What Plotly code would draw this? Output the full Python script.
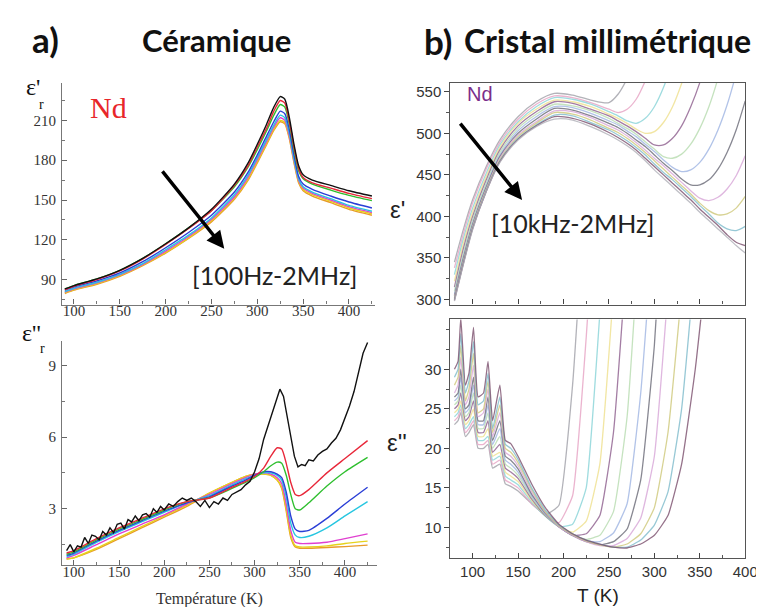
import plotly.graph_objects as go

W, H = 764, 607

def px(x):
    return x / W

def py(y):
    return 1 - y / H

# ---------------- Panel a : Ceramic ----------------
T_A = [90, 100, 125, 150, 175, 200, 225, 250, 275, 290, 300, 310, 318, 325, 330, 335, 340, 345, 350, 360, 380, 400, 425]
A_COLORS = ["#111111", "#e8283a", "#2fbf2f", "#2b3fd6", "#27c6e0", "#e040d0", "#e6d21e", "#e89a2a"]

EPS1_BLACK = [83, 85.5, 90.5, 97, 106, 117, 129, 143, 162, 178, 192, 207, 220, 228, 226, 212, 192, 176, 169, 165, 161, 157, 153]
EPS1_RED = [82.5, 85, 90, 96.5, 105.5, 116.5, 128.5, 142, 161, 176, 190, 204, 217, 225, 223, 209, 190, 174, 167, 163, 159, 155, 151]
EPS1_GREEN = [83, 85.5, 90.5, 97, 106, 117, 129, 142, 160, 175, 188, 202, 214, 222, 220, 207, 188, 172, 166, 162, 157.5, 153.5, 149.5]
EPS1_BLUE = [82, 84.5, 89, 95, 103.5, 114, 125.5, 138.5, 156, 171, 184, 198, 209, 217, 215, 203, 184, 168, 162, 158, 153, 148.5, 144]
EPS1_CYAN = [81, 83.5, 88, 94, 102, 112.5, 123.5, 136.5, 154, 169, 182, 195.5, 206.5, 214, 212, 200, 181, 166, 160, 156, 151, 146, 141.5]
EPS1_MAGENTA = [80.5, 83, 87.5, 93.5, 101.5, 111.5, 122.5, 135.5, 152.5, 167.5, 180.5, 194, 205, 212, 210, 198, 180, 165, 159, 155, 150, 145, 140.5]
EPS1_YELLOW = [80, 82.5, 87, 93, 101, 110.5, 121.5, 134.5, 151.5, 166, 179, 192.5, 203.5, 210, 208.5, 197, 179, 164, 158, 154, 149, 144, 139.5]
EPS1_ORANGE = [79.5, 82, 86.5, 92.5, 100.5, 110, 121, 133.5, 150.5, 165, 178, 191.5, 202.5, 209, 207.5, 196, 178, 163, 157, 153, 148, 143, 138.5]

T_A2 = [92, 100, 125, 150, 175, 200, 225, 250, 275, 290, 300, 310, 318, 325, 330, 335, 340, 345, 350, 360, 380, 400, 425]
EPS2_RED = [1.15, 1.25, 1.75, 2.2, 2.6, 3.0, 3.3, 3.45, 3.9, 4.15, 4.35, 4.7, 5.2, 5.55, 5.5, 4.9, 4.1, 3.6, 3.55, 3.8, 4.5, 5.1, 5.85]
EPS2_GREEN = [1.1, 1.2, 1.7, 2.15, 2.55, 2.95, 3.3, 3.45, 3.85, 4.1, 4.3, 4.55, 4.8, 4.95, 4.9, 4.4, 3.6, 3.0, 2.95, 3.25, 3.95, 4.55, 5.15]
EPS2_BLUE = [1.05, 1.15, 1.65, 2.1, 2.5, 2.9, 3.25, 3.5, 3.95, 4.2, 4.4, 4.55, 4.55, 4.45, 4.3, 3.7, 2.7, 2.15, 2.05, 2.1, 2.6, 3.2, 3.9]
EPS2_CYAN = [1.0, 1.1, 1.6, 2.05, 2.45, 2.85, 3.25, 3.55, 4.0, 4.25, 4.4, 4.5, 4.5, 4.4, 4.2, 3.5, 2.4, 1.9, 1.8, 1.85, 2.2, 2.7, 3.3]
EPS2_MAGENTA = [0.95, 1.05, 1.5, 1.95, 2.35, 2.75, 3.2, 3.6, 4.05, 4.3, 4.45, 4.5, 4.45, 4.3, 4.05, 3.2, 2.1, 1.6, 1.55, 1.55, 1.6, 1.75, 1.95]
EPS2_YELLOW = [0.9, 0.95, 1.35, 1.8, 2.25, 2.7, 3.15, 3.65, 4.1, 4.35, 4.45, 4.45, 4.4, 4.2, 3.9, 3.0, 1.9, 1.45, 1.4, 1.4, 1.45, 1.55, 1.65]
EPS2_ORANGE = [0.9, 0.95, 1.3, 1.75, 2.2, 2.65, 3.1, 3.65, 4.1, 4.35, 4.45, 4.45, 4.4, 4.2, 3.85, 2.9, 1.8, 1.4, 1.35, 1.35, 1.38, 1.42, 1.48]

T_BLACK = [92, 96, 100, 104, 108, 112, 116, 120, 124, 128, 132, 136, 140, 144, 148, 152, 156, 160, 164, 168,
           172, 176, 180, 184, 188, 192, 196, 200, 205, 210, 215, 220, 225, 230, 235, 240, 245, 250, 255, 260,
           265, 270, 275, 280, 285, 290, 295, 300, 305, 310, 315, 320, 325, 328, 332, 336, 340, 344, 348, 352,
           356, 360, 365, 370, 375, 380, 385, 390, 395, 400, 405, 410, 415, 420, 425]
EPS2_BLACK = [1.25, 1.5, 1.2, 1.45, 1.4, 1.8, 1.55, 1.9, 1.85, 1.7, 2.05, 1.9, 2.2, 2.0, 2.35, 2.4, 2.15, 2.55, 2.45, 2.7,
              2.5, 2.75, 2.8, 2.65, 3.0, 2.85, 3.1, 2.95, 3.2, 3.1, 3.3, 3.45, 3.35, 3.45, 3.3, 3.1, 3.35, 3.05, 3.3, 3.2,
              3.45, 3.35, 3.6, 3.7, 3.8, 4.0, 4.15, 4.55, 5.1, 5.9, 6.5, 7.0, 7.6, 8.0, 7.7, 6.9, 6.0, 5.2, 4.75, 4.85,
              4.8, 5.05, 5.0, 5.25, 5.4, 5.5, 5.75, 5.95, 6.3, 6.8, 7.3, 7.9, 8.7, 9.5, 9.95]

TICKS_A = [100, 150, 200, 250, 300, 350, 400]
TICKS_A1_Y = [90, 120, 150, 180, 210]
TICKS_A2_Y = [3, 6, 9]

# ---------------- Panel b : millimetric crystal ----------------
B_COLORS = ["#a0a0a8", "#e7a3c4", "#88d4d8", "#efe08c", "#8e5f8e", "#b7dcb0", "#9fb5e3",
            "#6b6b78", "#d8a6d8", "#cfc97a", "#7fbccc", "#7b4f6d", "#b0b0b8"]
N = None
T_B1 = [80, 90, 100, 115, 130, 150, 170, 190, 210, 230, 250, 260, 270, 280, 290, 300, 310, 320, 330, 340, 350, 360, 370, 380, 390, 400]
EPSB1_0 = [345, 385, 420, 460, 492, 520, 538, 548, 546, 540, 537, 547, 566, 594, 632, 680, N, N, N, N, N, N, N, N, N, N]
EPSB1_1 = [338, 380, 416, 457, 489, 517, 535, 545, 543, 537, 529, 525, 529, 541, 563, 592, 631, 700, N, N, N, N, N, N, N, N]
EPSB1_2 = [330, 374, 410, 452, 486, 514, 532, 543, 541, 535, 526, 521, 515, 512, 518, 532, 555, 587, 626, 700, N, N, N, N, N, N]
EPSB1_3 = [322, 368, 405, 448, 483, 512, 529, 540, 538, 532, 523, 518, 512, 505, 500, 502, 513, 532, 560, 595, 638, 700, N, N, N, N]
EPSB1_4 = [315, 362, 400, 444, 480, 509, 526, 538, 536, 529, 521, 515, 509, 502, 494, 486, 486, 494, 509, 532, 561, 599, 645, 700, N, N]
EPSB1_5 = [310, 356, 396, 440, 477, 506, 523, 535, 533, 527, 518, 512, 506, 499, 490, 481, 472, 470, 475, 487, 506, 532, 566, 607, 656, 700]
EPSB1_6 = [306, 352, 392, 437, 474, 503, 520, 532, 531, 524, 515, 510, 503, 496, 487, 478, 468, 459, 454, 456, 465, 481, 504, 534, 572, 617]
EPSB1_7 = [304, 350, 390, 435, 472, 500, 517, 530, 528, 521, 512, 507, 500, 492, 484, 474, 464, 455, 445, 438, 438, 444, 457, 477, 504, 539]
EPSB1_8 = [302, 347, 388, 433, 470, 498, 514, 527, 526, 519, 509, 504, 497, 489, 480, 470, 461, 451, 441, 431, 422, 419, 423, 433, 449, 473]
EPSB1_9 = [301, 346, 387, 432, 468, 496, 512, 525, 523, 516, 506, 501, 494, 486, 477, 467, 457, 447, 437, 427, 416, 407, 402, 403, 410, 424]
EPSB1_10 = [300, 345, 386, 431, 467, 494, 510, 522, 521, 513, 504, 498, 491, 483, 474, 463, 453, 444, 434, 424, 413, 403, 392, 385, 383, 388]
EPSB1_11 = [299, 344, 385, 430, 466, 493, 509, 520, 518, 511, 501, 495, 488, 480, 470, 460, 450, 440, 430, 420, 409, 399, 389, 378, 369, 365]
EPSB1_12 = [298, 343, 384, 430, 465, 492, 508, 517, 516, 508, 498, 492, 485, 477, 467, 456, 446, 436, 426, 416, 405, 395, 385, 375, 365, 356]
EPSB1 = [EPSB1_0, EPSB1_1, EPSB1_2, EPSB1_3, EPSB1_4, EPSB1_5, EPSB1_6, EPSB1_7, EPSB1_8, EPSB1_9,
         EPSB1_10, EPSB1_11, EPSB1_12]

T_B2 = [80, 84, 87, 92, 96, 101, 106, 112, 117, 122, 130, 136, 142, 150, 165, 180, 195, 210, 225, 240,
        255, 270, 285, 300, 315, 330, 345, 360]
EPSB2_0 = [23, 23.5, 24.5, 21.5, 22, 23, 20, 20, 20.5, 17.5, 18, 15.5, 15.2, 14.6, 13, 11.6, 12.8, 28, 55, N, N, N, N, N, N, N, N, N]
EPSB2_1 = [23.5, 24, 25, 22, 22.5, 23.5, 20.5, 20.5, 21, 18, 18.5, 16, 15.6, 15, 13, 11.5, 10.6, 14, 34, 60, N, N, N, N, N, N, N, N]
EPSB2_2 = [24, 24.5, 25.5, 22.5, 23, 24, 21, 21, 21.5, 18.5, 19, 16.5, 16, 15.4, 13.2, 11.4, 10.1, 10.4, 15, 37, 60, N, N, N, N, N, N, N]
EPSB2_3 = [24.5, 25, 26, 23, 23.5, 25, 21.5, 21.5, 22.5, 19, 19.5, 17, 16.5, 15.8, 13.4, 11.5, 10.1, 9.4, 10.8, 18, 40, N, N, N, N, N, N, N]
EPSB2_4 = [25, 25.5, 27, 23.5, 24, 26, 22, 22, 23.5, 19.5, 20.5, 17.5, 17, 16.2, 13.6, 11.5, 10.1, 9.0, 9.2, 11.5, 22, 45, N, N, N, N, N, N]
EPSB2_5 = [25.5, 26, 28, 24, 24.5, 27, 22.5, 22.5, 24.5, 20, 21.5, 18, 17.5, 16.6, 13.8, 11.6, 10.1, 9.0, 8.5, 9.0, 12, 24, 50, N, N, N, N, N]
EPSB2_6 = [26, 26.5, 29, 24.5, 25, 28, 23, 23, 25.5, 20.5, 22.5, 18.5, 18, 17, 14, 11.7, 10.1, 9.0, 8.3, 8.2, 9.3, 13, 27, 50, N, N, N, N]
EPSB2_7 = [26.5, 27, 30, 25, 25.5, 29, 23.5, 23.5, 26.5, 21, 23.5, 19, 18.5, 17.4, 14.2, 11.8, 10.1, 9.0, 8.2, 7.8, 8.2, 9.8, 16, 33, 60, N, N, N]
EPSB2_8 = [27, 28, 31.5, 25.5, 26.5, 30.5, 24, 24.5, 27.5, 21.5, 24.5, 19.5, 19, 17.8, 14.5, 11.9, 10.1, 9.0, 8.2, 7.7, 7.7, 8.6, 11.2, 19, 40, 65, N, N]
EPSB2_9 = [28, 29, 33, 26, 27.5, 32, 24.5, 25, 28.5, 22, 25.5, 20, 19.5, 18.2, 14.8, 12, 10.2, 9.1, 8.3, 7.8, 7.5, 7.9, 9.2, 12.5, 22, 40, 65, N]
EPSB2_10 = [29, 30, 34.5, 27, 28.5, 33.5, 25.5, 26, 29.5, 22.5, 26.5, 20.5, 20, 18.6, 15, 12.2, 10.3, 9.2, 8.4, 7.9, 7.5, 7.5, 8.4, 10.3, 14.5, 25, 44, 70]
EPSB2_11 = [30, 31, 36.5, 28, 29.5, 35.3, 26.5, 27, 31, 23.5, 28, 21, 20.6, 19, 15.5, 12.5, 10.4, 9.2, 8.4, 7.9, 7.5, 7.4, 7.9, 9.0, 11.5, 18, 30, 46]
EPSB2 = [EPSB2_0, EPSB2_1, EPSB2_2, EPSB2_3, EPSB2_4, EPSB2_5, EPSB2_6, EPSB2_7, EPSB2_8, EPSB2_9, EPSB2_10, EPSB2_11]

TICKS_B = [100, 150, 200, 250, 300, 350, 400]
TICKS_B1_Y = [300, 350, 400, 450, 500, 550]
TICKS_B2_Y = [10, 15, 20, 25, 30]

# ---------------- Figure ----------------
fig = go.Figure()

A1 = [EPS1_BLACK, EPS1_RED, EPS1_GREEN, EPS1_BLUE, EPS1_CYAN, EPS1_MAGENTA, EPS1_YELLOW, EPS1_ORANGE]
for ys, c in zip(A1[::-1], A_COLORS[::-1]):
    fig.add_trace(go.Scatter(x=T_A, y=ys, mode="lines", line=dict(color=c, width=1.4, shape="spline", smoothing=0.6),
                             xaxis="x", yaxis="y", showlegend=False, hoverinfo="skip"))

A2 = [EPS2_RED, EPS2_GREEN, EPS2_BLUE, EPS2_CYAN, EPS2_MAGENTA, EPS2_YELLOW, EPS2_ORANGE]
for ys, c in zip(A2[::-1], A_COLORS[1:][::-1]):
    fig.add_trace(go.Scatter(x=T_A2, y=ys, mode="lines", line=dict(color=c, width=1.4, shape="spline", smoothing=0.6),
                             xaxis="x2", yaxis="y2", showlegend=False, hoverinfo="skip"))
fig.add_trace(go.Scatter(x=T_BLACK, y=EPS2_BLACK, mode="lines", line=dict(color="#111111", width=1.4),
                         xaxis="x2", yaxis="y2", showlegend=False, hoverinfo="skip"))

for ys, c in zip(EPSB1, B_COLORS):
    fig.add_trace(go.Scatter(x=T_B1, y=ys, mode="lines", opacity=0.8,
                             line=dict(color=c, width=1.3, shape="spline", smoothing=0.8),
                             xaxis="x3", yaxis="y3", showlegend=False, hoverinfo="skip"))
for ys, c in zip(EPSB2, B_COLORS):
    fig.add_trace(go.Scatter(x=T_B2, y=ys, mode="lines", opacity=0.8,
                             line=dict(color=c, width=1.3, shape="spline", smoothing=0.4),
                             xaxis="x4", yaxis="y4", showlegend=False, hoverinfo="skip"))

serif_tick = dict(family="Liberation Serif", size=15, color="#333333")
sans_tick = dict(family="Liberation Sans", size=15, color="#333333")

def ax_a(domain, rng, ticks, anchor, minor_dt, standoff=0):
    return dict(domain=domain, range=rng, anchor=anchor, tickvals=ticks, ticks="inside", ticklen=5,
                tickcolor="#666666", showline=True, linecolor="#777777", linewidth=1.2,
                showgrid=False, zeroline=False, tickfont=serif_tick, ticklabelstandoff=standoff,
                minor=dict(ticks="inside", ticklen=3, dtick=minor_dt, tickcolor="#777777", showgrid=False))

def ax_b(domain, rng, ticks, anchor, minor_dt, tickdir, labels=True):
    return dict(domain=domain, range=rng, anchor=anchor, tickvals=ticks, ticks=tickdir, ticklen=5,
                tickcolor="#444444", showline=True, linecolor="#555555", linewidth=1.2, mirror=True,
                showgrid=False, zeroline=False, tickfont=sans_tick, showticklabels=labels,
                minor=dict(ticks=tickdir, ticklen=3, dtick=minor_dt, tickcolor="#555555", showgrid=False))

fig.update_layout(
    width=W, height=H, margin=dict(l=0, r=0, t=0, b=0),
    paper_bgcolor="white", plot_bgcolor="white", showlegend=False,
    xaxis=ax_a([px(55), px(373)], [87, 428], TICKS_A, "y", 25, standoff=-8),
    yaxis=ax_a([py(298), py(75)], [71.2, 238.5], TICKS_A1_Y, "x", 15, standoff=2),
    xaxis2=ax_a([px(55), px(375)], [87, 435], TICKS_A, "y2", 25, standoff=-7),
    yaxis2=ax_a([py(560), py(335)], [0.64, 10.0], TICKS_A2_Y, "x2", 1.5, standoff=2),
    xaxis3=ax_b([px(450), px(750)], [75.5, 400], TICKS_B, "y3", 25, "inside", labels=False),
    yaxis3=ax_b([py(298), py(75)], [294, 561], TICKS_B1_Y, "x3", 25, "outside"),
    xaxis4=ax_b([px(450), px(750)], [75.5, 400], TICKS_B, "y4", 25, "inside"),
    yaxis4=ax_b([py(553), py(313)], [6.1, 36.3], TICKS_B2_Y, "x4", 2.5, "outside"),
)

def txt(x, y, s, size, family, color="#111111", bold=False, xanchor="center"):
    if bold:
        s = "<b>" + s + "</b>"
    fig.add_annotation(x=px(x), y=py(y), xref="paper", yref="paper", text=s, showarrow=False,
                       xanchor=xanchor, yanchor="middle", font=dict(size=size, family=family, color=color))

# titles
txt(38, 31, "a)", 35, "Lato", bold=True)
txt(212, 32, "Céramique", 31, "Lato", bold=True)
txt(437, 33, "b)", 35, "Lato", bold=True)
txt(610, 33, "Cristal millimétrique", 32, "Lato", bold=True)

# panel a labels
txt(25, 79, "ε'", 24, "Liberation Serif")
txt(34, 97, "r", 14, "Liberation Serif")
txt(24, 327, "ε''", 24, "Liberation Serif")
txt(35, 342, "r", 14, "Liberation Serif")
txt(102, 100, "Nd", 30, "Liberation Serif", color="#e8262a")
txt(271, 268, "[100Hz-2MHz]", 25, "Lato", color="#222222")
txt(205, 594, "Température (K)", 16, "Liberation Serif", color="#333333")

# panel b labels
txt(480, 86, "Nd", 20, "Liberation Sans", color="#7b2d8b")
txt(574, 216, "[10kHz-2MHz]", 25, "Lato", color="#222222")
txt(396, 203, "ε'", 24, "Liberation Sans", color="#222222")
txt(396, 437, "ε''", 24, "Liberation Sans", color="#222222")
txt(600, 590, "T (K)", 19, "Liberation Sans", color="#222222")

# arrows
for tip, start in [((220, 242), (157, 163)), ((523, 193), (460, 115))]:
    fig.add_annotation(x=px(tip[0]), y=py(tip[1]), xref="paper", yref="paper",
                       ax=start[0] - tip[0], ay=start[1] - tip[1], text="", showarrow=True,
                       arrowhead=2, arrowsize=1, arrowwidth=3.5, arrowcolor="#000000")

fig.write_html("out.html")
